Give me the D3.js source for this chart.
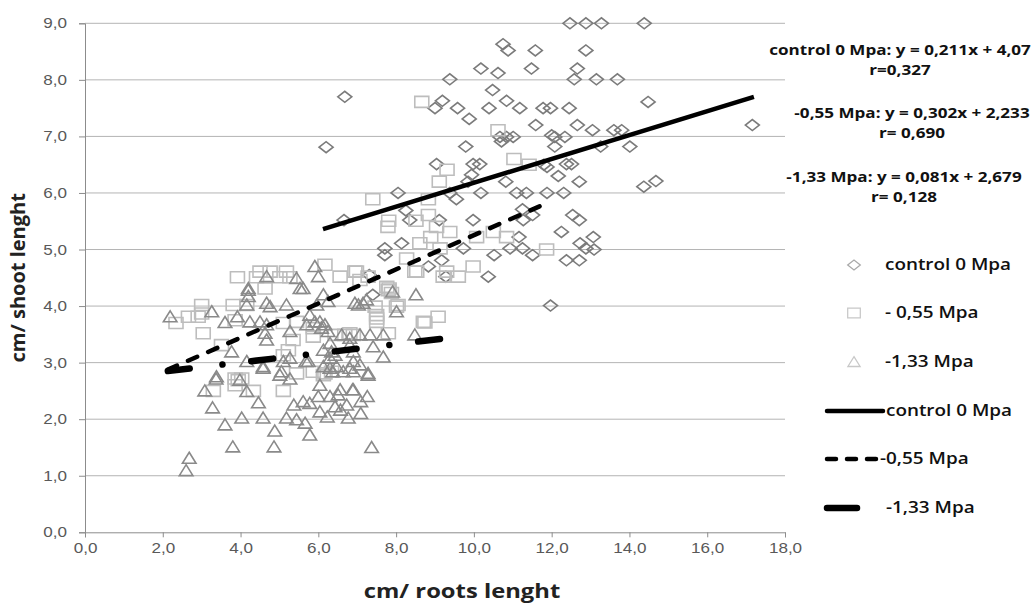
<!DOCTYPE html>
<html>
<head>
<meta charset="utf-8">
<script src="https://cdn.jsdelivr.net/npm/d3@7/dist/d3.min.js"></script>
<style>
  html, body { margin: 0; padding: 0; background: #fff; }
  svg { display: block; }
</style>
</head>
<body>
<svg id="chart" width="1035" height="603"></svg>
<script>
// ---- data: [roots length, shoot length] per treatment ----
const controlPoints = [
  [6.68,7.70],[6.2,6.81],[6.66,5.52],
  [12.47,9.0],[12.88,9.0],[13.28,9.0],[14.38,9.0],
  [10.75,8.63],[10.88,8.52],[11.58,8.52],[12.88,8.52],
  [10.18,8.2],[10.62,8.12],[11.48,8.2],[12.66,8.2],
  [9.38,8.01],[12.58,8.01],[13.15,8.01],[13.69,8.01],
  [10.48,7.82],[9.19,7.63],[9.0,7.5],[9.58,7.5],[9.88,7.31],[10.39,7.5],[10.84,7.63],[11.18,7.5],[11.78,7.5],[11.97,7.5],[12.45,7.5],
  [14.48,7.61],[11.59,7.2],[12.66,7.2],[13.05,7.11],[13.6,7.11],[13.8,7.11],[17.16,7.2],
  [10.67,6.99],[10.84,6.99],[10.71,6.91],[11.01,6.99],[12.0,7.02],[12.08,6.99],[12.34,6.99],
  [9.79,6.82],[12.08,6.82],[13.26,6.82],[14.01,6.82],
  [9.04,6.51],[9.98,6.51],[10.15,6.51],[9.94,6.32],[9.85,6.2],[10.82,6.2],
  [11.8,6.5],[11.88,6.46],[12.38,6.51],[12.51,6.51],[12.17,6.3],[12.71,6.2],[14.37,6.11],[14.68,6.21],
  [8.05,6.0],[8.25,5.69],[8.35,5.52],[9.38,6.0],[9.55,5.89],[10.18,6.0],[11.1,6.0],[11.35,6.0],[11.88,6.0],[12.31,6.0],
  [9.11,5.52],[9.98,5.52],[11.25,5.71],[11.51,5.61],[11.27,5.52],[12.54,5.61],[12.71,5.52],[12.25,5.31],
  [8.14,5.11],[7.71,5.02],[7.71,4.9],[8.83,4.7],[9.28,4.52],[9.17,4.81],[9.73,5.02],[10.52,4.9],[10.37,4.52],[10.93,5.02],[11.16,5.22],[11.25,5.02],[11.51,4.9],
  [12.73,5.11],[12.88,5.02],[13.07,5.22],[13.09,5.0],[12.38,4.81],[12.71,4.81],
  [11.97,4.01],[7.31,4.55],[7.4,4.2]
];

const mpa055Points = [
  [8.66,7.61],[10.62,7.11],[11.03,6.6],[11.42,6.5],[9.31,6.41],[9.11,6.2],[7.4,5.89],[8.83,5.89],[7.81,5.51],[8.51,5.51],
  [8.83,5.61],[9.04,5.4],[9.38,5.31],[8.61,5.11],[8.89,5.22],[9.13,5.02],[10.07,5.22],[10.5,5.31],[10.84,5.22],[11.87,5.0],
  [8.48,4.61],[9.3,4.61],[9.6,4.52],[9.98,4.7],[6.98,4.61],[6.56,4.52],[7.28,4.52],[7.82,4.31],[9.21,4.52],
  [3.92,4.51],[4.5,4.61],[4.76,4.61],[5.18,4.61],[4.41,4.51],[5.01,4.51],[5.27,4.51],[4.63,4.31],[3.0,4.02],[2.66,3.81],[2.91,3.81],
  [2.34,3.7],[3.0,3.87],[3.04,3.52],[3.81,4.02],[4.16,4.02],[3.86,3.75],[5.1,3.7],[5.44,3.72],[5.87,3.61],[5.87,3.46],
  [3.51,3.31],[5.23,3.22],[5.35,3.4],[3.86,2.72],[4.03,2.72],[6.13,2.78],[5.1,3.13],
  [3.86,2.6],[3.3,2.5],[4.33,2.5],[5.1,2.5],[5.44,2.81],[6.17,2.81],[3.94,2.69],
  [8.27,4.84],[8.53,4.61],[6.17,4.73],[6.94,4.61],[7.07,4.46],[7.76,4.34],[7.5,3.84],[7.5,3.72],[7.46,3.99],[8.05,4.02],
  [8.7,3.72],[9.08,3.81],[6.43,3.49],[6.68,3.49],[6.9,3.49],[5.87,2.84],[6.34,2.84],[7.8,3.52],[7.88,4.23],[7.79,5.4],
  [7.5,3.78],[7.8,4.28],[8.01,3.99],[8.74,3.71],[6.81,3.52]
];

const mpa133Points = [
  [2.19,3.81],[3.26,3.9],[3.6,3.71],[3.92,3.81],[4.2,4.31],[4.2,4.17],[4.16,4.02],[4.67,4.52],[4.67,4.05],[4.76,3.99],
  [5.18,4.02],[4.24,3.72],[4.5,3.72],[4.63,3.52],[4.67,3.4],[5.27,3.55],[5.7,3.67],[5.44,4.49],[5.91,4.7],[5.61,4.31],
  [5.96,4.02],[3.77,3.19],[4.16,3.02],[5.1,3.02],[5.27,3.08],[4.58,2.9],[3.38,2.75],[5.74,3.02],[5.05,2.84],
  [4.67,3.67],[5.53,4.31],[3.37,2.71],[3.08,2.5],[3.98,2.69],[4.16,2.49],[3.28,2.2],[4.46,2.29],[3.6,1.9],[4.03,2.02],
  [4.58,2.02],[4.88,1.79],[3.8,1.51],[4.86,1.51],[2.68,1.31],[2.6,1.09],[4.58,2.93],[5.01,2.78],[5.27,2.71],[5.68,3.02],
  [6.04,2.6],[5.37,2.25],[5.61,2.31],[5.78,2.28],[5.18,2.02],[5.44,1.99],[5.66,1.93],[5.78,1.72],[6.04,2.13],[6.23,2.04],
  [6.43,2.22],[6.57,2.16],[6.73,2.25],[6.0,2.4],[6.3,2.4],[6.51,2.43],[6.3,3.34],[6.13,3.22],[6.43,3.13],[6.13,2.93],[6.47,2.93],
  [6.56,2.52],[6.88,2.52],[7.09,2.31],[7.09,2.1],[7.26,2.4],[7.37,1.5],[7.28,2.78],[6.37,2.84],[6.64,2.84],[6.9,2.84],[6.77,2.02],
  [6.0,4.52],[6.13,4.2],[6.25,4.08],[6.94,4.05],[7.03,4.02],[7.15,4.05],[7.24,4.11],[7.91,4.25],[8.51,4.2],[8.01,3.9],
  [5.78,3.84],[5.91,3.72],[6.04,3.72],[6.17,3.67],[6.08,3.61],[6.25,3.55],[6.6,3.49],[6.81,3.43],[7.07,3.49],[7.33,3.49],
  [7.67,3.49],[8.48,3.49],[6.34,3.19],[6.81,3.31],[6.9,3.19],[7.41,3.28],[7.67,3.1],[6.3,3.08],[6.9,3.02],[7.07,2.96],
  [6.3,2.9],[6.81,2.9],[7.28,2.81],[6.9,2.52],[4.2,4.28]
];

// linear fits: slope, intercept, x extent of the fitted line
const trendNames = ["control 0 Mpa", "-0,55 Mpa", "-1,33 Mpa"];
const trendSlopes = [0.211, 0.302, 0.081];
const trendIntercepts = [4.07, 2.233, 2.679];
const trendXStart = [6.12, 2.13, 2.13];
const trendXEnd = [17.2, 11.9, 9.23];

const equationLines = [
  ["control 0 Mpa: y = 0,211x + 4,07", "r=0,327"],
  ["-0,55 Mpa: y = 0,302x + 2,233", "r= 0,690"],
  ["-1,33 Mpa: y = 0,081x + 2,679", "r= 0,128"]
];

const xTicks = [0, 2, 4, 6, 8, 10, 12, 14, 16, 18];
const yTicks = [0, 1, 2, 3, 4, 5, 6, 7, 8, 9];
const fmt = v => v.toFixed(1).replace(".", ",");

// ---- layout ----
const svg = d3.select("#chart");
const plot = { left: 85, right: 785, top: 23.3, bottom: 532.3 };
const x = d3.scaleLinear().domain([0, 18]).range([plot.left, plot.right]);
const y = d3.scaleLinear().domain([0, 9]).range([plot.bottom, plot.top]);

// horizontal text is drawn slightly wide, as in the original sheet export
const stretch = 1.22;
const tickFont = "'Liberation Sans', Arial, sans-serif";
const labelFont = "'Open Sans', 'Noto Sans', sans-serif";

function wideText(g, px, py, str, opts) {
  return g.append("text")
    .attr("transform", `translate(${px},${py}) scale(${stretch},1)`)
    .attr("text-anchor", opts.anchor || "start")
    .attr("dy", opts.dy || null)
    .style("font-family", labelFont)
    .style("font-weight", opts.weight)
    .style("font-size", opts.size + "px")
    .attr("fill", opts.fill || "#111")
    .text(str);
}

// gridlines
svg.append("g")
  .selectAll("line")
  .data(yTicks.filter(d => d > 0))
  .join("line")
  .attr("x1", plot.left).attr("x2", plot.right)
  .attr("y1", d => y(d)).attr("y2", d => y(d))
  .attr("stroke", "#b4b4b4").attr("stroke-width", 1);

// axes
const xAxis = svg.append("g")
  .attr("transform", `translate(0,${plot.bottom})`)
  .call(d3.axisBottom(x).tickValues(xTicks).tickFormat(fmt).tickSize(5).tickPadding(6));
const yAxis = svg.append("g")
  .attr("transform", `translate(${plot.left},0)`)
  .call(d3.axisLeft(y).tickValues(yTicks).tickFormat(fmt).tickSize(6).tickPadding(12));
[xAxis, yAxis].forEach(g => {
  g.select(".domain").attr("stroke", "#8c8c8c");
  g.selectAll(".tick line").attr("stroke", "#8c8c8c");
  g.selectAll(".tick text")
    .attr("fill", "#595959")
    .style("font-family", tickFont)
    .style("font-size", "14px")
    .attr("x", function () { return (+d3.select(this).attr("x") || 0) / stretch; })
    .attr("transform", `scale(${stretch},1)`);
});

// axis titles
wideText(svg, 462, 598, "cm/ roots lenght", { anchor: "middle", weight: 700, size: 19.5, fill: "#222" });
svg.append("text")
  .attr("transform", `translate(25,${(plot.top + plot.bottom) / 2}) rotate(-90)`)
  .attr("text-anchor", "middle")
  .style("font-family", labelFont).style("font-weight", "700").style("font-size", "20px")
  .attr("fill", "#222")
  .text("cm/ shoot lenght");

// marker shapes
const markerPath = {
  diamond: "M-7,0L0,-5.5L7,0L0,5.5Z",
  square: "M-7,-5.5H7V5.5H-7Z",
  triangle: "M0,-6L6.8,5H-6.8Z"
};
const series = [
  { pts: controlPoints, shape: "diamond", color: "#7b7b7b" },
  { pts: mpa055Points, shape: "square", color: "#bdbdbd" },
  { pts: mpa133Points, shape: "triangle", color: "#8a8a8a" }
];

// trend line styles
const trendStyles = [
  { width: 4.5, dash: null, cap: "butt" },
  { width: 4.5, dash: "10,12", cap: "round" },
  { width: 6.5, dash: "22,33,0.01,29", cap: "round" }
];

const markers = svg.append("g");
series.forEach(s => {
  markers.append("g")
    .selectAll("path")
    .data(s.pts)
    .join("path")
    .attr("d", markerPath[s.shape])
    .attr("transform", d => `translate(${x(d[0])},${y(d[1])})`)
    .attr("fill", "none")
    .attr("stroke", s.color)
    .attr("stroke-width", 1.6);
});

const line = d3.line().x(d => x(d[0])).y(d => y(d[1]));
const trends = svg.append("g");
trendSlopes.forEach((m, i) => {
  const b = trendIntercepts[i];
  const pts = [trendXStart[i], trendXEnd[i]].map(v => [v, m * v + b]);
  trends.append("path")
    .attr("d", line(pts))
    .attr("fill", "none")
    .attr("stroke", "#000")
    .attr("stroke-width", trendStyles[i].width)
    .attr("stroke-linecap", trendStyles[i].cap)
    .attr("stroke-dasharray", trendStyles[i].dash);
});

// regression equations
const eqCenters = [[900, 55, 75], [912, 118, 138], [904, 182, 202]];
equationLines.forEach((lines, i) => {
  lines.forEach((t, j) => {
    wideText(svg, eqCenters[i][0], eqCenters[i][1 + j], t, { anchor: "middle", weight: 700, size: 14, fill: "#111" });
  });
});

// legend
const legendMarkerNames = ["control 0 Mpa", "- 0,55 Mpa", "-1,33 Mpa"];
const legendY = [265, 313, 362, 411, 459, 508];
const lg = svg.append("g");
series.forEach((s, i) => {
  lg.append("path")
    .attr("d", markerPath[s.shape])
    .attr("transform", `translate(854,${legendY[i]}) scale(0.9)`)
    .attr("fill", "none").attr("stroke", i === 0 ? "#a8a8a8" : "#c8c8c8").attr("stroke-width", 1.4);
  wideText(lg, 885, legendY[i], legendMarkerNames[i], { dy: "0.35em", weight: 600, size: 15.5 });
});
const legendLineEnds = [[827, 883], [827, 878], [827, 857]];
const legendTextX = [886, 880, 886];
trendNames.forEach((name, i) => {
  const yy = legendY[3 + i];
  lg.append("line")
    .attr("x1", legendLineEnds[i][0]).attr("x2", legendLineEnds[i][1])
    .attr("y1", yy).attr("y2", yy)
    .attr("stroke", "#000")
    .attr("stroke-width", trendStyles[i].width)
    .attr("stroke-linecap", "round")
    .attr("stroke-dasharray", i === 1 ? "9,11" : null);
  wideText(lg, legendTextX[i], yy, name, { dy: "0.35em", weight: 600, size: 15.5 });
});
</script>
</body>
</html>
